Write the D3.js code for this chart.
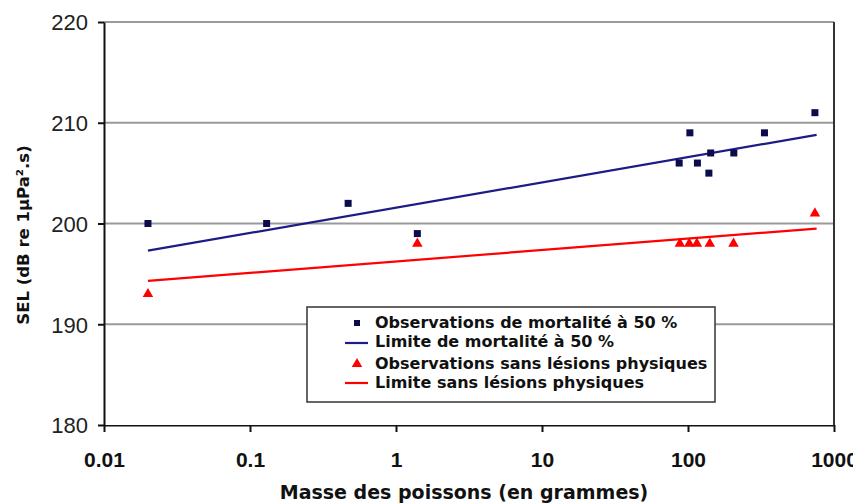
<!DOCTYPE html>
<html><head><meta charset="utf-8">
<script src="https://cdn.jsdelivr.net/npm/d3@7"></script>
<style>html,body{margin:0;padding:0;background:#fff;}</style>
</head><body>
<script>
// ---- data ----
const mortMass = [0.02, 0.13, 0.47, 1.4, 87, 103, 116, 139, 143, 206, 334, 740];
const mortSEL  = [200, 200, 202, 199, 206, 209, 206, 205, 207, 207, 209, 211];
const noInjMass = [0.02, 1.4, 88, 102, 115, 141, 205, 740];
const noInjSEL  = [193, 198, 198, 198, 198, 198, 198, 201];
const mortLimitMass = [0.02, 760];
const mortLimitSEL  = [197.3, 208.8];
const noInjLimitMass = [0.02, 760];
const noInjLimitSEL  = [194.3, 199.5];
const xTicks = [0.01, 0.1, 1, 10, 100, 1000];
const xTickLabels = ["0.01", "0.1", "1", "10", "100", "1000"];
const yTicks = [180, 190, 200, 210, 220];
const legendLabels = ["Observations de mortalité à 50 %", "Limite de mortalité à 50 %",
                      "Observations sans lésions physiques", "Limite sans lésions physiques"];
const xTitle = "Masse des poissons (en grammes)";
const yTitle = "SEL (dB re 1µPa².s)";

const W = 861, H = 504;
const navy = "#0b0b4e", blueLine = "#1c1c85", red = "#ff0000";

const svg = d3.select("body").append("svg").attr("width", W).attr("height", H);

const x = d3.scaleLog().domain([0.01, 1000]).range([104, 834]);
const y = d3.scaleLinear().domain([180, 220]).range([425, 22]);

// gridlines
svg.append("g").selectAll("line").data(yTicks.filter(d => d > 180)).join("line")
  .attr("x1", x(0.01)).attr("x2", x(1000))
  .attr("y1", d => y(d)).attr("y2", d => y(d))
  .attr("stroke", "#9a9a9a").attr("stroke-width", 2);

// right border
svg.append("line").attr("x1", x(1000)).attr("x2", x(1000))
  .attr("y1", y(220)).attr("y2", y(180))
  .attr("stroke", "#333").attr("stroke-width", 2);

// clip for x-axis labels (original image is cut at the right)
svg.append("clipPath").attr("id", "clipR").append("rect")
  .attr("x", 0).attr("y", 0).attr("width", 853).attr("height", H);

// x axis
const xAxis = svg.append("g").attr("transform", `translate(0,${y(180)})`)
  .attr("clip-path", "url(#clipR)")
  .call(d3.axisBottom(x).tickValues(xTicks).tickSize(7).tickSizeOuter(0)
        .tickFormat((d, i) => xTickLabels[i]));
xAxis.select(".domain").attr("stroke", "#111").attr("stroke-width", 2);
xAxis.selectAll(".tick line").attr("stroke", "#111").attr("stroke-width", 2);
xAxis.selectAll(".tick text").attr("y", 42).attr("dy", "0")
  .style("font-family", "'Liberation Sans', Arial, sans-serif")
  .style("font-weight", "bold").style("font-size", "21px").attr("fill", "#111");

// y axis
const yAxis = svg.append("g").attr("transform", `translate(${x(0.01)},0)`)
  .call(d3.axisLeft(y).tickValues(yTicks).tickSize(6).tickSizeOuter(0));
yAxis.select(".domain").attr("stroke", "#111").attr("stroke-width", 2);
yAxis.selectAll(".tick line").attr("stroke", "#111").attr("stroke-width", 2);
yAxis.selectAll(".tick text").attr("x", -16).attr("dy", "0.36em")
  .style("font-family", "'Liberation Sans', Arial, sans-serif")
  .style("font-size", "22px").attr("fill", "#222");

// limit lines
const line = d3.line().x(d => x(d[0])).y(d => y(d[1]));
svg.append("path").datum(mortLimitMass.map((m, i) => [m, mortLimitSEL[i]]))
  .attr("d", line).attr("fill", "none").attr("stroke", blueLine).attr("stroke-width", 2.2);
svg.append("path").datum(noInjLimitMass.map((m, i) => [m, noInjLimitSEL[i]]))
  .attr("d", line).attr("fill", "none").attr("stroke", red).attr("stroke-width", 2.2);

// mortality squares
svg.append("g").selectAll("rect").data(mortMass.map((m, i) => [m, mortSEL[i]])).join("rect")
  .attr("x", d => x(d[0]) - 3.5).attr("y", d => y(d[1]) - 3.5)
  .attr("width", 7).attr("height", 7).attr("fill", navy);

// no injury triangles
const tri = d3.symbol().type(d3.symbolTriangle).size(48);
svg.append("g").selectAll("path").data(noInjMass.map((m, i) => [m, noInjSEL[i]])).join("path")
  .attr("d", tri).attr("transform", d => `translate(${x(d[0])},${y(d[1])})`)
  .attr("fill", red);

// legend
const lg = svg.append("g");
lg.append("rect").attr("x", 307).attr("y", 307).attr("width", 408).attr("height", 95)
  .attr("fill", "#fff").attr("stroke", "#333").attr("stroke-width", 1.5);
const rowBase = [328, 347, 369, 388];
const rowMark = [323, 343, 364, 383];
lg.selectAll("text").data(legendLabels).join("text")
  .attr("x", 375).attr("y", (d, i) => rowBase[i]).text(d => d)
  .style("font-family", "'DejaVu Sans', sans-serif").style("font-weight", "bold")
  .style("font-size", "16px").attr("fill", "#111");
lg.append("rect").attr("x", 354).attr("y", rowMark[0] - 3).attr("width", 6).attr("height", 6).attr("fill", navy);
lg.append("line").attr("x1", 345).attr("x2", 368).attr("y1", rowMark[1]).attr("y2", rowMark[1])
  .attr("stroke", blueLine).attr("stroke-width", 2.2);
lg.append("path").attr("d", tri).attr("transform", `translate(357,${rowMark[2]})`).attr("fill", red);
lg.append("line").attr("x1", 345).attr("x2", 368).attr("y1", rowMark[3]).attr("y2", rowMark[3])
  .attr("stroke", red).attr("stroke-width", 2.2);

// titles
svg.append("text").attr("x", 464).attr("y", 499).attr("text-anchor", "middle").text(xTitle)
  .style("font-family", "'DejaVu Sans', sans-serif").style("font-weight", "bold")
  .style("font-size", "19px").attr("fill", "#111");
svg.append("text").attr("transform", "translate(29,235) rotate(-90)").attr("text-anchor", "middle").text(yTitle)
  .style("font-family", "'DejaVu Sans', sans-serif").style("font-weight", "bold")
  .style("font-size", "16.5px").attr("fill", "#111");
</script>
</body></html>
